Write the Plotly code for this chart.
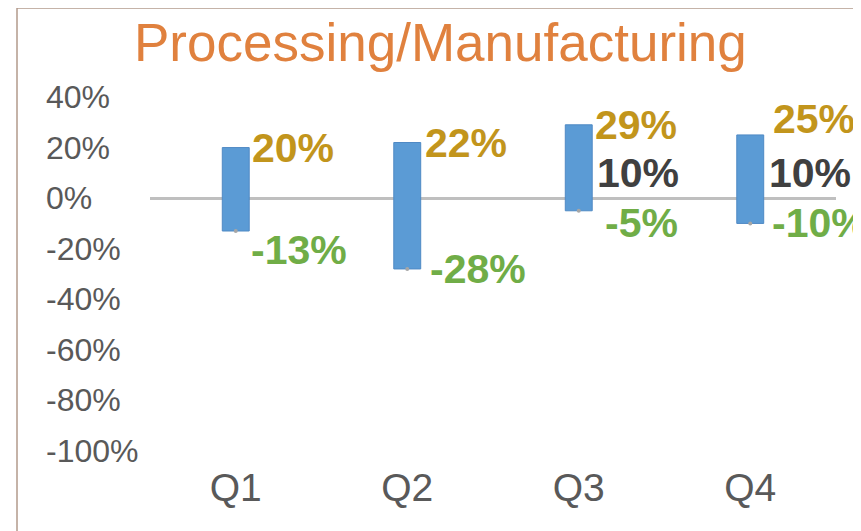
import plotly.graph_objects as go

categories = ["Q1", "Q2", "Q3", "Q4"]
high_vals = [20, 22, 29, 25]
low_vals = [-13, -28, -5, -10]
mid_vals = [None, None, 10, 10]
y_ticks = [40, 20, 0, -20, -40, -60, -80, -100]
title_text = "Processing/Manufacturing"

# styling / label nudges (pixels, plotly yshift positive = up)
high_shift = [(1, 0), (2, 0), (1, 0), (7, 16)]
low_shift = [(0, -19), (7, 0), (11, -12), (6, 0)]
mid_shift = [(0, 0), (0, 0), (3, 0), (3, 0)]

FONT = "Arial, Liberation Sans, sans-serif"
BAR_W = 0.157
GOLD = "#C2951C"
GREEN = "#70AD47"
DARK = "#404040"
AXIS_TXT = "#595959"

W, H = 861, 531
ML, MR, MT, MB = 142, 33, 89, 88
PW, PH = W - ML - MR, H - MT - MB

x_idx = list(range(len(categories)))

fig = go.Figure()
fig.add_trace(go.Bar(
    x=x_idx,
    y=[h - l for h, l in zip(high_vals, low_vals)],
    base=low_vals,
    width=BAR_W,
    marker=dict(color="#5B9BD5", line=dict(color="#4F89C4", width=1)),
    hoverinfo="skip",
))
fig.add_trace(go.Scatter(
    x=x_idx, y=low_vals, mode="markers",
    marker=dict(color="#A6A6A6", size=4),
    hoverinfo="skip",
))

ann = []
LBL = 41
for i in x_idx:
    ann.append(dict(x=i + BAR_W / 2, y=high_vals[i], xref="x", yref="y",
                    text=f"{high_vals[i]}%", showarrow=False, xanchor="left",
                    yanchor="middle", xshift=high_shift[i][0], yshift=high_shift[i][1],
                    font=dict(family=FONT, size=LBL, color=GOLD, weight="bold")))
    ann.append(dict(x=i + BAR_W / 2, y=low_vals[i], xref="x", yref="y",
                    text=f"{low_vals[i]}%", showarrow=False, xanchor="left",
                    yanchor="middle", xshift=low_shift[i][0], yshift=low_shift[i][1],
                    font=dict(family=FONT, size=LBL, color=GREEN, weight="bold")))
    if mid_vals[i] is not None:
        ann.append(dict(x=i + BAR_W / 2, y=mid_vals[i], xref="x", yref="y",
                        text=f"{mid_vals[i]}%", showarrow=False, xanchor="left",
                        yanchor="middle", xshift=mid_shift[i][0], yshift=mid_shift[i][1],
                        font=dict(family=FONT, size=LBL, color=DARK, weight="bold")))

# left-aligned y tick labels
for t in y_ticks:
    ann.append(dict(x=(36 - ML) / PW, y=t, xref="paper", yref="y",
                    text=f"{t}%", showarrow=False, xanchor="left", yanchor="middle",
                    font=dict(family=FONT, size=32, color=AXIS_TXT)))

ann.append(dict(x=(432 - ML) / PW, y=1 + (MT - 34) / PH, xref="paper", yref="paper",
                text=title_text, showarrow=False, xanchor="center", yanchor="middle",
                font=dict(family=FONT, size=53, color="#E0813E")))

fig.update_layout(
    width=W, height=H,
    margin=dict(l=ML, r=MR, t=MT, b=MB),
    paper_bgcolor="white", plot_bgcolor="white",
    showlegend=False,
    xaxis=dict(tickmode="array", tickvals=x_idx, ticktext=categories,
               range=[-0.5, len(categories) - 0.5], showgrid=False, zeroline=False,
               showline=False, ticks="", ticklabelstandoff=10,
               tickfont=dict(family=FONT, size=39, color=AXIS_TXT)),
    yaxis=dict(range=[-100, 40], showgrid=False, showticklabels=False, ticks="",
               zeroline=True, zerolinecolor="#BFBFBF", zerolinewidth=2.5,
               showline=False),
    shapes=[dict(type="rect", xref="paper", yref="paper",
                 x0=(9 - ML) / PW, x1=2, y0=-1, y1=1 + MT / PH,
                 line=dict(color="#B39A8C", width=1.5), fillcolor="rgba(0,0,0,0)",
                 layer="below")],
)
for a in ann:
    fig.add_annotation(**a)

fig.write_html("out.html")
